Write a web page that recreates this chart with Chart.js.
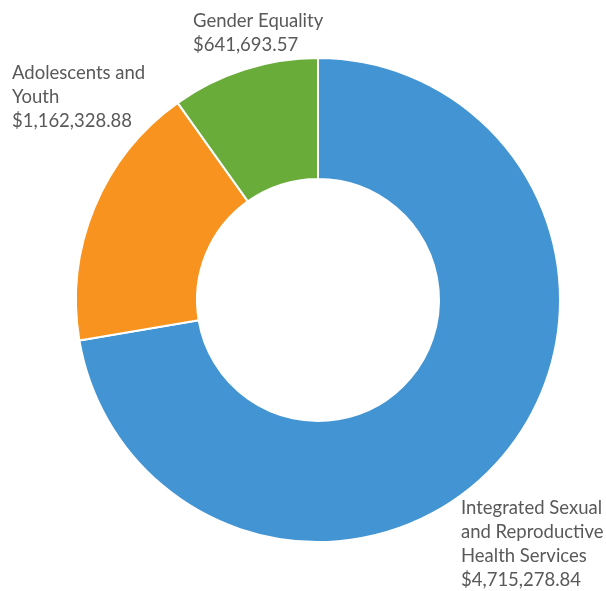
<!DOCTYPE html>
<html>
<head>
<meta charset="utf-8">
<script src="https://cdn.jsdelivr.net/npm/chart.js@4/dist/chart.umd.min.js"></script>
<style>
  html, body { margin: 0; padding: 0; background: #ffffff; }
  #wrap { width: 606px; height: 591px; position: relative; }
</style>
</head>
<body>
<div id="wrap"><canvas id="chart"></canvas></div>
<script>
// 数据
const categories = ['Integrated Sexual and Reproductive Health Services', 'Adolescents and Youth', 'Gender Equality'];
const amounts = [4715278.84, 1162328.88, 641693.57];
const sliceColors = ['#4394d3', '#f7931e', '#6aac3a'];

// 标签文字行（手动换行，与原图一致）
const labelLines = [
    ['Integrated Sexual', 'and Reproductive', 'Health Services'],
    ['Adolescents and', 'Youth'],
    ['Gender Equality']
];
// 标签位置（首行中线起点）
const labelPos = [
    { x: 461, y: 508 },
    { x: 12, y: 73 },
    { x: 193, y: 21 }
];

function money(v) {
    return '$' + v.toLocaleString('en-US', { minimumFractionDigits: 2, maximumFractionDigits: 2 });
}

// 外部标签插件
const outsideLabels = {
    id: 'outsideLabels',
    afterDraw(chart) {
        const ctx = chart.ctx;
        ctx.save();
        ctx.font = '18.5px Lato, "Open Sans", sans-serif';
        ctx.fillStyle = '#595959';
        ctx.textAlign = 'left';
        ctx.textBaseline = 'middle';
        categories.forEach(function(cat, i) {
            const lines = labelLines[i].concat([money(amounts[i])]);
            lines.forEach(function(line, j) {
                ctx.fillText(line, labelPos[i].x, labelPos[i].y + j * 24);
            });
        });
        ctx.restore();
    }
};

new Chart(document.getElementById('chart'), {
    type: 'doughnut',
    data: {
        labels: categories,
        datasets: [{
            data: amounts,
            backgroundColor: sliceColors,
            borderColor: '#ffffff',
            borderWidth: 2
        }]
    },
    options: {
        responsive: true,
        maintainAspectRatio: false,
        animation: false,
        cutout: '50%',
        layout: {
            padding: { left: 75, right: 45, top: 57, bottom: 48 }
        },
        plugins: {
            legend: { display: false },
            tooltip: { enabled: false }
        }
    },
    plugins: [outsideLabels]
});
</script>
</body>
</html>
